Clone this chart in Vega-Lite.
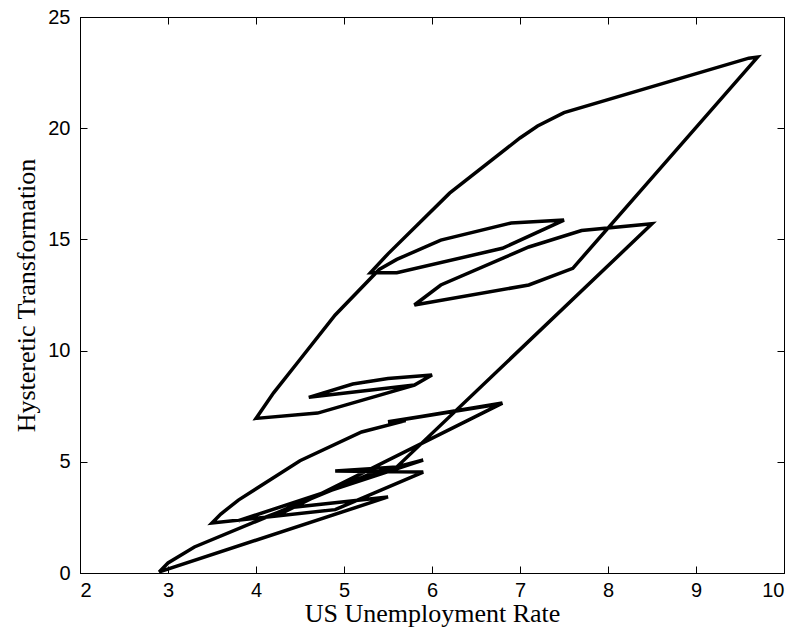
{
  "$schema": "https://vega.github.io/schema/vega-lite/v6.json",
  "width": 704,
  "height": 556,
  "autosize": {"type": "none"},
  "padding": {"left": 80, "top": 17, "right": 17, "bottom": 64},
  "background": "white",
  "config": {
    "view": {"stroke": "black", "strokeWidth": 1},
    "axis": {
      "domainColor": "black",
      "tickColor": "black",
      "tickSize": -7,
      "grid": false,
      "labelFont": "Liberation Sans",
      "labelFontSize": 20,
      "labelColor": "black",
      "titleFont": "Liberation Serif",
      "titleFontSize": 26,
      "titleFontWeight": "normal",
      "titleColor": "black"
    }
  },
  "data": {
    "values": [
      {"year": 1948, "u": 3.8, "h": 2.35},
      {"year": 1949, "u": 5.9, "h": 5.08},
      {"year": 1950, "u": 5.3, "h": 4.45},
      {"year": 1951, "u": 3.3, "h": 1.17},
      {"year": 1952, "u": 3.0, "h": 0.45},
      {"year": 1953, "u": 2.9, "h": 0.05},
      {"year": 1954, "u": 5.5, "h": 3.42},
      {"year": 1955, "u": 4.4, "h": 2.95},
      {"year": 1956, "u": 4.1, "h": 2.5},
      {"year": 1957, "u": 4.3, "h": 2.7},
      {"year": 1958, "u": 6.8, "h": 7.64},
      {"year": 1959, "u": 5.5, "h": 6.79},
      {"year": 1960, "u": 5.5, "h": 6.79},
      {"year": 1961, "u": 6.7, "h": 7.55},
      {"year": 1962, "u": 5.5, "h": 6.8},
      {"year": 1963, "u": 5.7, "h": 6.85},
      {"year": 1964, "u": 5.2, "h": 6.34},
      {"year": 1965, "u": 4.5, "h": 5.05},
      {"year": 1966, "u": 3.8, "h": 3.28},
      {"year": 1967, "u": 3.8, "h": 3.28},
      {"year": 1968, "u": 3.6, "h": 2.65},
      {"year": 1969, "u": 3.5, "h": 2.25},
      {"year": 1970, "u": 4.9, "h": 2.85},
      {"year": 1971, "u": 5.9, "h": 4.54},
      {"year": 1972, "u": 5.6, "h": 4.55},
      {"year": 1973, "u": 4.9, "h": 4.59},
      {"year": 1974, "u": 5.6, "h": 4.77},
      {"year": 1975, "u": 8.5, "h": 15.7},
      {"year": 1976, "u": 7.7, "h": 15.4},
      {"year": 1977, "u": 7.1, "h": 14.66},
      {"year": 1978, "u": 6.1, "h": 12.95},
      {"year": 1979, "u": 5.8, "h": 12.05},
      {"year": 1980, "u": 7.1, "h": 12.95},
      {"year": 1981, "u": 7.6, "h": 13.7},
      {"year": 1982, "u": 9.7, "h": 23.2},
      {"year": 1983, "u": 9.6, "h": 23.15},
      {"year": 1984, "u": 7.5, "h": 20.7},
      {"year": 1985, "u": 7.2, "h": 20.1},
      {"year": 1986, "u": 7.0, "h": 19.56},
      {"year": 1987, "u": 6.2, "h": 17.08},
      {"year": 1988, "u": 5.5, "h": 14.35},
      {"year": 1989, "u": 5.3, "h": 13.5},
      {"year": 1990, "u": 5.6, "h": 13.5},
      {"year": 1991, "u": 6.8, "h": 14.6},
      {"year": 1992, "u": 7.5, "h": 15.87},
      {"year": 1993, "u": 6.9, "h": 15.74},
      {"year": 1994, "u": 6.1, "h": 14.97},
      {"year": 1995, "u": 5.6, "h": 14.1},
      {"year": 1996, "u": 5.4, "h": 13.65},
      {"year": 1997, "u": 4.9, "h": 11.6},
      {"year": 1998, "u": 4.5, "h": 9.6},
      {"year": 1999, "u": 4.2, "h": 8.1},
      {"year": 2000, "u": 4.0, "h": 6.95},
      {"year": 2001, "u": 4.7, "h": 7.19},
      {"year": 2002, "u": 5.8, "h": 8.45},
      {"year": 2003, "u": 6.0, "h": 8.9},
      {"year": 2004, "u": 5.5, "h": 8.75},
      {"year": 2005, "u": 5.1, "h": 8.5},
      {"year": 2006, "u": 4.6, "h": 7.9},
      {"year": 2007, "u": 4.6, "h": 7.9},
      {"year": 2008, "u": 5.8, "h": 8.45}
    ]
  },
  "layer": [
    {
      "mark": {"type": "line", "color": "black", "strokeWidth": 3.5, "strokeJoin": "miter", "clip": true},
      "encoding": {
        "x": {"field": "u", "type": "quantitative", "scale": {"domain": [2, 10], "nice": false, "zero": false},
              "axis": {"orient": "bottom", "values": [2,3,4,5,6,7,8,9,10], "title": "US Unemployment Rate", "labelPadding": 14, "titlePadding": 0}},
        "y": {"field": "h", "type": "quantitative", "scale": {"domain": [0, 25], "nice": false, "zero": false},
              "axis": {"orient": "left", "values": [0,5,10,15,20,25], "title": "Hysteretic Transformation", "labelPadding": 17, "titlePadding": 8}},
        "order": {"field": "year", "type": "quantitative"}
      }
    },
    {
      "mark": {"type": "line", "opacity": 0},
      "encoding": {
        "x": {"field": "u", "type": "quantitative", "scale": {"domain": [2, 10], "nice": false, "zero": false},
              "axis": {"orient": "top", "values": [2,3,4,5,6,7,8,9,10], "labels": false, "title": null}},
        "y": {"field": "h", "type": "quantitative", "scale": {"domain": [0, 25], "nice": false, "zero": false},
              "axis": {"orient": "right", "values": [0,5,10,15,20,25], "labels": false, "title": null}},
        "order": {"field": "year", "type": "quantitative"}
      }
    }
  ],
  "resolve": {"axis": {"x": "independent", "y": "independent"}}
}
